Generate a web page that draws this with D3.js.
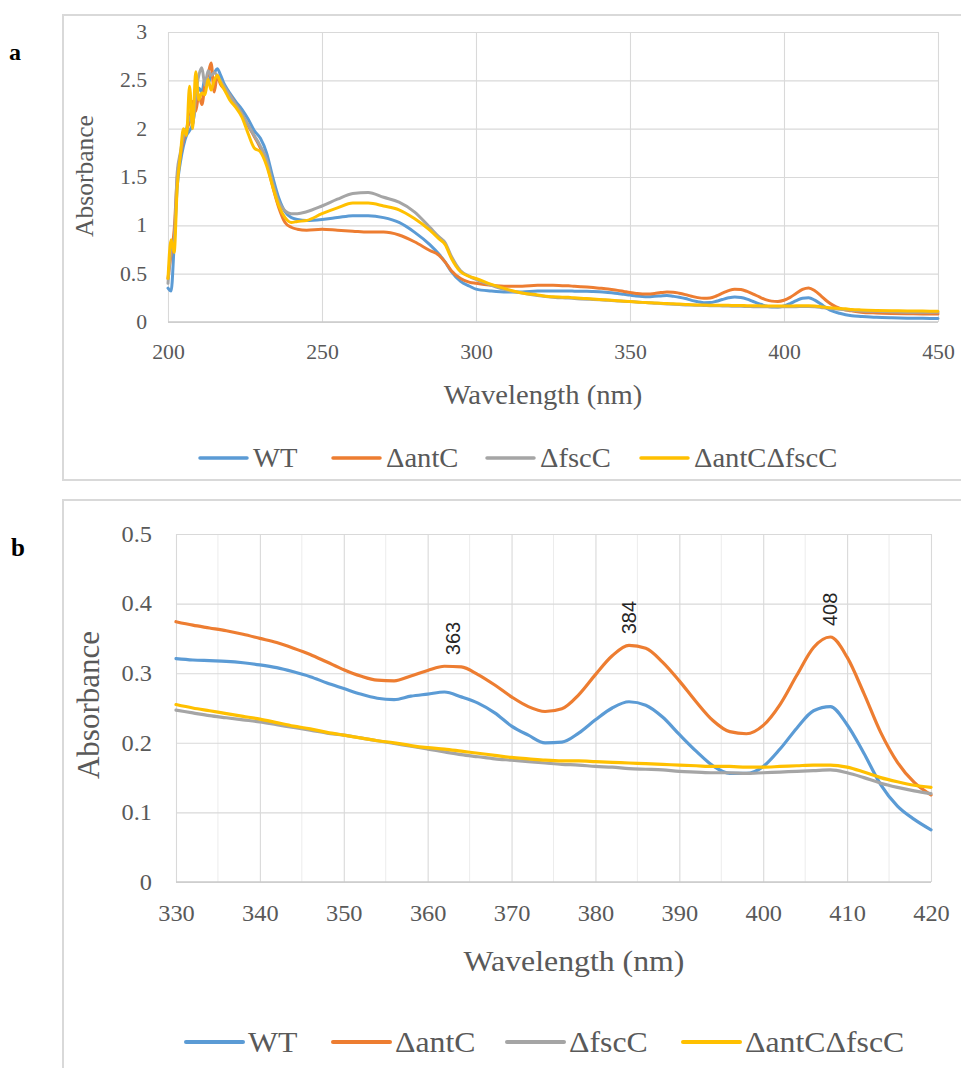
<!DOCTYPE html>
<html>
<head>
<meta charset="utf-8">
<script src="https://cdn.jsdelivr.net/npm/d3@7"></script>
<style>
  html, body { margin: 0; padding: 0; background: #fff; }
  svg { display: block; }
</style>
</head>
<body>
<svg id="chart" width="961" height="1068"></svg>
<script>
// ---- Series ----------------------------------------------------------------
const seriesNames  = ["WT", "ΔantC", "ΔfscC", "ΔantCΔfscC"];
const seriesColors = ["#5B9BD5", "#ED7D31", "#A5A5A5", "#FFC000"];

// Short-wavelength part of the scan (nm)
const waveLow = [200, 201, 202, 203, 204, 205, 206, 207, 208, 209, 210, 211, 212, 213, 214,
  215, 216, 217, 218, 219, 220, 222, 224, 226, 228, 230, 232, 234, 236, 238, 240,
  242, 245, 250, 255, 260, 265, 270, 275, 280, 285, 288, 290, 292, 295, 298, 300,
  305, 310, 315, 320, 325, 328];
const wtLow = [0.35, 0.32, 0.80, 1.40, 1.65, 1.82, 1.93, 1.98, 2.05, 2.25, 2.42, 2.38, 2.52, 2.47, 2.55,
  2.58, 2.62, 2.56, 2.48, 2.42, 2.37, 2.28, 2.20, 2.10, 1.98, 1.90, 1.75, 1.50, 1.28, 1.14, 1.08,
  1.06, 1.05, 1.06, 1.08, 1.10, 1.10, 1.08, 1.03, 0.93, 0.80, 0.70, 0.62, 0.52, 0.42, 0.37, 0.34,
  0.32, 0.31, 0.31, 0.32, 0.32, 0.321];
const antLow = [0.45, 0.70, 0.95, 1.50, 1.72, 1.88, 1.98, 2.08, 2.28, 2.18, 2.35, 2.25, 2.45, 2.56, 2.68,
  2.38, 2.55, 2.46, 2.42, 2.39, 2.35, 2.25, 2.15, 2.03, 1.92, 1.80, 1.65, 1.40, 1.18, 1.03, 0.98,
  0.96, 0.95, 0.96, 0.95, 0.94, 0.93, 0.93, 0.90, 0.83, 0.74, 0.69, 0.62, 0.53, 0.45, 0.41, 0.40,
  0.38, 0.37, 0.37, 0.38, 0.38, 0.376];
const fscLow = [0.40, 0.75, 0.85, 1.55, 1.75, 1.92, 2.00, 2.12, 2.05, 2.35, 2.55, 2.63, 2.45, 2.60, 2.55,
  2.58, 2.55, 2.50, 2.45, 2.40, 2.35, 2.25, 2.15, 2.04, 1.93, 1.82, 1.68, 1.44, 1.24, 1.15, 1.12,
  1.12, 1.14, 1.20, 1.27, 1.33, 1.34, 1.29, 1.24, 1.14, 0.98, 0.88, 0.82, 0.68, 0.53, 0.47, 0.44,
  0.38, 0.33, 0.30, 0.275, 0.257, 0.25];
const dblLow = [0.45, 0.85, 0.72, 1.40, 1.72, 2.00, 1.93, 2.44, 2.00, 2.59, 2.30, 2.37, 2.35, 2.51, 2.40,
  2.50, 2.55, 2.48, 2.42, 2.36, 2.30, 2.22, 2.12, 1.95, 1.80, 1.76, 1.62, 1.40, 1.20, 1.08, 1.03,
  1.04, 1.05, 1.12, 1.18, 1.23, 1.23, 1.20, 1.16, 1.07, 0.95, 0.86, 0.80, 0.66, 0.52, 0.47, 0.45,
  0.39, 0.34, 0.30, 0.28, 0.26, 0.257];

// Visible band, 2-nm steps (shown enlarged in panel b)
const waveMid = [330, 332, 334, 336, 338, 340, 342, 344, 346, 348, 350, 352, 354, 356, 358, 360,
  362, 364, 366, 368, 370, 372, 374, 376, 378, 380, 382, 384, 386, 388, 390, 392, 394, 396, 398,
  400, 402, 404, 406, 408, 410, 412, 414, 416, 418, 420];
const wtMid = [0.321, 0.319, 0.318, 0.317, 0.315, 0.312, 0.308, 0.302, 0.295, 0.286, 0.278, 0.270,
  0.264, 0.262, 0.267, 0.270, 0.273, 0.266, 0.257, 0.243, 0.224, 0.211, 0.200, 0.201, 0.214, 0.233,
  0.250, 0.259, 0.254, 0.237, 0.212, 0.188, 0.167, 0.156, 0.156, 0.166, 0.191, 0.221, 0.246, 0.252,
  0.226, 0.185, 0.140, 0.109, 0.090, 0.075];
const antMid = [0.374, 0.369, 0.365, 0.361, 0.356, 0.350, 0.344, 0.336, 0.327, 0.316, 0.305, 0.296,
  0.290, 0.289, 0.296, 0.304, 0.310, 0.309, 0.298, 0.283, 0.266, 0.252, 0.245, 0.249, 0.269, 0.298,
  0.325, 0.340, 0.336, 0.316, 0.289, 0.259, 0.232, 0.216, 0.213, 0.225, 0.255, 0.297, 0.337, 0.352,
  0.323, 0.271, 0.215, 0.172, 0.143, 0.125];
const fscMid = [0.247, 0.243, 0.239, 0.236, 0.233, 0.230, 0.226, 0.222, 0.218, 0.214, 0.211, 0.207,
  0.203, 0.199, 0.195, 0.191, 0.187, 0.183, 0.180, 0.177, 0.175, 0.173, 0.171, 0.169, 0.168, 0.166,
  0.165, 0.163, 0.162, 0.161, 0.159, 0.158, 0.157, 0.157, 0.156, 0.157, 0.158, 0.159, 0.160, 0.161,
  0.157, 0.150, 0.142, 0.136, 0.131, 0.127];
const dblMid = [0.255, 0.250, 0.246, 0.242, 0.238, 0.234, 0.229, 0.224, 0.220, 0.215, 0.211, 0.207,
  0.203, 0.200, 0.196, 0.193, 0.191, 0.188, 0.185, 0.182, 0.179, 0.177, 0.175, 0.174, 0.174, 0.173,
  0.172, 0.171, 0.170, 0.169, 0.168, 0.167, 0.166, 0.166, 0.165, 0.165, 0.166, 0.167, 0.168, 0.168,
  0.165, 0.158, 0.150, 0.144, 0.139, 0.136];

// Long-wavelength tail
const waveHigh = [422, 425, 430, 435, 440, 445, 450];
const wtHigh  = [0.065, 0.058, 0.048, 0.043, 0.040, 0.038, 0.036];
const antHigh = [0.115, 0.102, 0.093, 0.088, 0.085, 0.083, 0.082];
const fscHigh = [0.122, 0.115, 0.110, 0.105, 0.102, 0.100, 0.100];
const dblHigh = [0.130, 0.125, 0.120, 0.117, 0.115, 0.113, 0.112];

// Absorption maxima marked in panel b (nm)
const peakLabels = [363, 384, 408];

// Axis ticks
const xTicksA = [200, 250, 300, 350, 400, 450];
const yTicksA = [0, 0.5, 1, 1.5, 2, 2.5, 3];
const xTicksB = [330, 340, 350, 360, 370, 380, 390, 400, 410, 420];
const xMinorB = [335, 345, 355, 365, 375, 385, 395, 405, 415];
const yTicksB = [0, 0.1, 0.2, 0.3, 0.4, 0.5];

// ---- Helpers ---------------------------------------------------------------
const SERIF = "'Liberation Serif', 'Times New Roman', Times, serif";
const SANS  = "'Liberation Sans', Arial, sans-serif";
const INK   = "#595959";
const GRID  = "#D9D9D9";
const SX    = 1.06;   // slight horizontal widening of the serif lettering

const svg = d3.select("#chart");
svg.append("rect").attr("width", 961).attr("height", 1068).attr("fill", "#fff");

const zip = (ws, vs) => ws.map((w, i) => ({ w, v: vs[i] }));

const fullScan = [
  [...zip(waveLow, wtLow),  ...zip(waveMid, wtMid),  ...zip(waveHigh, wtHigh)],
  [...zip(waveLow, antLow), ...zip(waveMid, antMid), ...zip(waveHigh, antHigh)],
  [...zip(waveLow, fscLow), ...zip(waveMid, fscMid), ...zip(waveHigh, fscHigh)],
  [...zip(waveLow, dblLow), ...zip(waveMid, dblMid), ...zip(waveHigh, dblHigh)]
];
const visibleBand = [zip(waveMid, wtMid), zip(waveMid, antMid), zip(waveMid, fscMid), zip(waveMid, dblMid)];

function wideText(parent, x, y, str, size, anchor, extra) {
  const t = parent.append("text")
    .attr("transform", `translate(${x},${y}) scale(${SX},1)`)
    .attr("text-anchor", anchor)
    .attr("font-family", SERIF)
    .attr("font-size", size)
    .attr("fill", INK)
    .text(str);
  if (extra) extra(t);
  return t;
}

function drawPanel(p) {
  const g = svg.append("g");

  // chart-area frame
  g.append("rect")
    .attr("x", p.frame[0]).attr("y", p.frame[1])
    .attr("width", p.frame[2]).attr("height", p.frame[3])
    .attr("fill", "#fff").attr("stroke", GRID).attr("stroke-width", 2);

  const x = d3.scaleLinear().domain(p.xDomain).range([p.left, p.right]);
  const y = d3.scaleLinear().domain(p.yDomain).range([p.bottom, p.top]);

  // minor vertical gridlines
  if (p.xMinor) {
    g.append("g").selectAll("line").data(p.xMinor).join("line")
      .attr("x1", d => x(d)).attr("x2", d => x(d))
      .attr("y1", p.top).attr("y2", p.bottom)
      .attr("stroke", "#ECECEC").attr("stroke-width", 1);
  }

  // y axis with horizontal gridlines
  const ya = g.append("g")
    .attr("transform", `translate(${p.left},0)`)
    .call(d3.axisLeft(y).tickValues(p.yTicks).tickSize(-(p.right - p.left))
      .tickPadding(p.yPad).tickFormat(d3.format("")));
  ya.select(".domain").remove();
  ya.selectAll(".tick line").attr("stroke", GRID).attr("stroke-width", 1.1);
  ya.selectAll(".tick text")
    .attr("font-family", SERIF).attr("font-size", p.tickSize).attr("fill", INK)
    .attr("transform", `scale(${SX},1)`);

  // x axis with vertical gridlines
  const xa = g.append("g")
    .attr("transform", `translate(0,${p.bottom})`)
    .call(d3.axisBottom(x).tickValues(p.xTicks).tickSize(-(p.bottom - p.top))
      .tickPadding(p.xPad).tickFormat(d3.format("")));
  xa.select(".domain").remove();
  xa.selectAll(".tick line").attr("stroke", GRID).attr("stroke-width", 1.1);
  xa.selectAll(".tick text")
    .attr("font-family", SERIF).attr("font-size", p.tickSize).attr("fill", INK)
    .attr("transform", `scale(${SX},1)`);

  // horizontal axis line
  g.append("line")
    .attr("x1", p.left).attr("x2", p.right)
    .attr("y1", y(0)).attr("y2", y(0))
    .attr("stroke", "#CACACA").attr("stroke-width", 1.5);

  // spectra
  const line = d3.line().x(d => x(d.w)).y(d => y(d.v)).curve(d3.curveMonotoneX);
  g.append("g").selectAll("path").data(p.data).join("path")
    .attr("d", line)
    .attr("fill", "none")
    .attr("stroke", (d, i) => seriesColors[i])
    .attr("stroke-width", p.lineWidth)
    .attr("stroke-linejoin", "round")
    .attr("stroke-linecap", "round");

  // axis titles
  wideText(g, p.xTitle[0], p.xTitle[1], "Wavelength (nm)", p.xTitleSize, "middle");
  g.append("text")
    .attr("transform", `translate(${p.yTitle[0]},${p.yTitle[1]}) rotate(-90)`)
    .attr("text-anchor", "middle")
    .attr("font-family", SERIF).attr("font-size", p.yTitleSize).attr("fill", INK)
    .text("Absorbance");

  // legend
  const lg = g.append("g");
  seriesNames.forEach((name, i) => {
    const x0 = p.legendX[i];
    lg.append("line")
      .attr("x1", x0).attr("x2", x0 + p.legendLine)
      .attr("y1", p.legendY).attr("y2", p.legendY)
      .attr("stroke", seriesColors[i]).attr("stroke-width", p.legendWidth)
      .attr("stroke-linecap", "round");
    wideText(lg, x0 + p.legendLine + p.legendGap, p.legendY + 0.33 * p.legendSize,
      name, p.legendSize, "start");
  });

  // panel letter
  svg.append("text")
    .attr("x", p.letter[0]).attr("y", p.letter[1])
    .attr("font-family", SERIF).attr("font-weight", "bold")
    .attr("font-size", p.letterSize).attr("fill", "#000")
    .text(p.letterText);

  return { g, x, y };
}

// ---- Panel a: full scan ----------------------------------------------------
drawPanel({
  frame: [63, 15, 1000, 465],
  left: 168, right: 938, top: 32, bottom: 322,
  xDomain: [200, 450], yDomain: [0, 3],
  xTicks: xTicksA, yTicks: yTicksA,
  yPad: 19.8, xPad: 22.6, tickSize: 20.5,
  data: fullScan, lineWidth: 3,
  xTitle: [543, 404], xTitleSize: 27,
  yTitle: [93, 176], yTitleSize: 25.5,
  legendX: [200, 333, 487, 641], legendY: 458, legendLine: 47, legendGap: 6,
  legendSize: 27, legendWidth: 3.5,
  letter: [9, 60], letterSize: 24, letterText: "a"
});

// ---- Panel b: visible band -------------------------------------------------
const pb = drawPanel({
  frame: [63, 500, 1000, 620],
  left: 176, right: 931, top: 534, bottom: 882,
  xDomain: [330, 420], yDomain: [0, 0.5],
  xTicks: xTicksB, yTicks: yTicksB, xMinor: xMinorB,
  yPad: 22.6, xPad: 22.7, tickSize: 23,
  data: visibleBand, lineWidth: 3.2,
  xTitle: [574, 971], xTitleSize: 30,
  yTitle: [99, 705], yTitleSize: 31,
  legendX: [186, 333, 507, 683], legendY: 1042, legendLine: 57, legendGap: 5,
  legendSize: 30, legendWidth: 4,
  letter: [11, 556], letterSize: 25, letterText: "b"
});

// peak wavelengths written vertically above the ΔantC maxima
const antPoints = visibleBand[1];
pb.g.append("g").selectAll("text").data(peakLabels).join("text")
  .attr("transform", d => {
    const top = d3.max(antPoints.filter(p => Math.abs(p.w - d) <= 2), p => p.v);
    return `translate(${pb.x(d)},${pb.y(top) - 11}) rotate(-90)`;
  })
  .attr("dy", "0.35em")
  .attr("text-anchor", "start")
  .attr("font-family", SANS).attr("font-size", 20).attr("fill", "#262626")
  .text(d => d);
</script>
</body>
</html>
